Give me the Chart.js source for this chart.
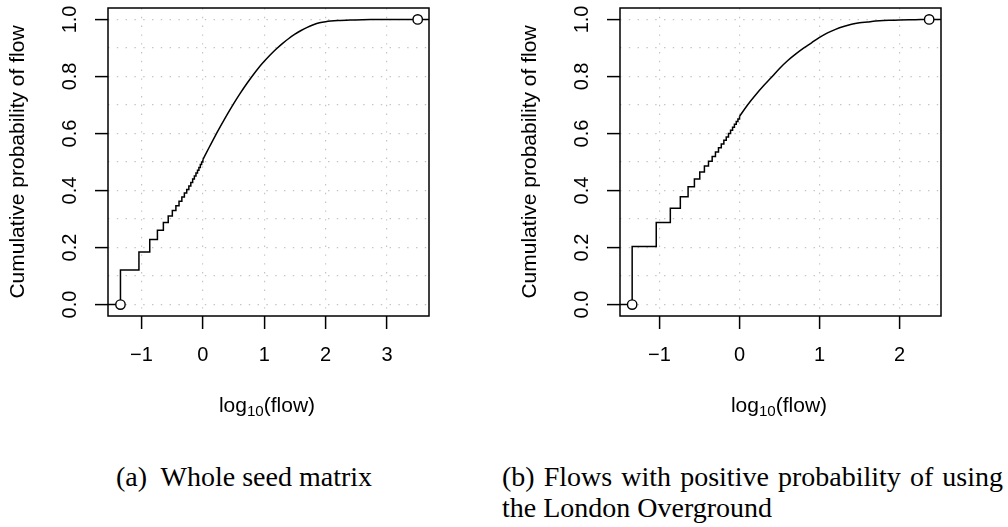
<!DOCTYPE html>
<html>
<head>
<meta charset="utf-8">
<script src="https://cdn.jsdelivr.net/npm/chart.js@4/dist/chart.umd.min.js"></script>
<style>
  html, body { margin: 0; padding: 0; background: #fff; width: 1008px; height: 527px; overflow: hidden; }
  canvas { position: absolute; top: 0; }
  #cA { left: 0px; }
  #cB { left: 512px; }
  .cap { position: absolute; font-family: "Liberation Serif", "DejaVu Serif", serif; font-size: 28px; line-height: 31px; color: #000; }
  #capA { left: 0px; width: 488px; top: 461px; text-align: center; }
  #capB1 { left: 502px; width: 501px; top: 461px; text-align: justify; text-align-last: justify; }
  #capB2 { left: 502px; width: 501px; top: 492px; text-align: left; }
  .xt { position: absolute; width: 200px; top: 393px; text-align: center; color: #000;
        font-family: "Liberation Sans", Arial, Helvetica, sans-serif; font-size: 21px; line-height: 24px; }
  .xt sub { font-size: 0.72em; line-height: 0; vertical-align: -0.28em; }
  #xtA { left: 167px; }
  #xtB { left: 679px; }
</style>
</head>
<body>
<canvas id="cA" width="450" height="440"></canvas>
<canvas id="cB" width="450" height="440"></canvas>
<div class="xt" id="xtA">log<sub>10</sub>(flow)</div>
<div class="xt" id="xtB">log<sub>10</sub>(flow)</div>
<div class="cap" id="capA">(a)&nbsp; Whole seed matrix</div>
<div class="cap" id="capB1">(b) Flows with positive probability of using</div>
<div class="cap" id="capB2">the London Overground</div>
<script>
// ---- shared axis text ----
const yTitle = 'Cumulative probability of flow';
const yGridValues = [0, 0.1, 0.2, 0.3, 0.4, 0.5, 0.6, 0.7, 0.8, 0.9, 1.0];
const yTickLabels = ['0.0', '', '0.2', '', '0.4', '', '0.6', '', '0.8', '', '1.0'];
const yRange = [-0.04, 1.04];

// ---- panel (a): whole seed matrix ----
const xTicksA = [-1, 0, 1, 2, 3];
const xTickLabelsA = ['\u22121', '0', '1', '2', '3'];
const xRangeA = [-1.545, 3.684];
const stepXA = [-1.342, -1.041, -0.865, -0.740, -0.643, -0.564, -0.497, -0.439, -0.388, -0.342, -0.301,
                -0.263, -0.228, -0.196, -0.166, -0.138, -0.112, -0.087, -0.064, -0.041, -0.020, 0.000];
const stepPA = [0.121, 0.184, 0.228, 0.261, 0.288, 0.311, 0.330, 0.347, 0.362, 0.377, 0.391,
                0.404, 0.416, 0.428, 0.440, 0.451, 0.461, 0.471, 0.481, 0.491, 0.500, 0.508];
const curveXA = [0.0, 0.1, 0.2, 0.3, 0.4, 0.5, 0.6, 0.7, 0.8, 0.9, 1.0, 1.1, 1.2, 1.3, 1.4, 1.5, 1.6, 1.7,
                 1.8, 1.9, 2.0, 2.2, 2.4, 2.6, 2.8, 3.0, 3.5];
const curvePA = [0.508, 0.550, 0.591, 0.630, 0.668, 0.704, 0.738, 0.770, 0.800, 0.828, 0.853, 0.876, 0.897,
                 0.916, 0.933, 0.948, 0.961, 0.972, 0.981, 0.988, 0.992, 0.996, 0.998, 0.999, 0.9995, 1.0, 1.0];

// ---- panel (b): flows with positive probability of using the London Overground ----
const xTicksB = [-1, 0, 1, 2];
const xTickLabelsB = ['\u22121', '0', '1', '2'];
const xRangeB = [-1.494, 2.518];
const stepXB = [-1.342, -1.041, -0.865, -0.740, -0.643, -0.564, -0.497, -0.439, -0.388, -0.342, -0.301,
                -0.263, -0.228, -0.196, -0.166, -0.138, -0.112, -0.087, -0.064, -0.041, -0.020, 0.000];
const stepPB = [0.204, 0.288, 0.338, 0.378, 0.413, 0.440, 0.465, 0.486, 0.503, 0.519, 0.535,
                0.550, 0.563, 0.576, 0.588, 0.600, 0.611, 0.622, 0.632, 0.642, 0.651, 0.660];
const curveXB = [0.0, 0.1, 0.2, 0.3, 0.4, 0.5, 0.6, 0.7, 0.8, 0.9, 1.0, 1.1, 1.2, 1.3, 1.4, 1.5, 1.6, 1.7,
                 1.8, 1.9, 2.0, 2.2, 2.37];
const curvePB = [0.660, 0.700, 0.735, 0.767, 0.797, 0.828, 0.855, 0.878, 0.899, 0.918, 0.937, 0.953, 0.965,
                 0.975, 0.983, 0.988, 0.991, 0.994, 0.996, 0.997, 0.998, 0.999, 1.0];

const TICKFONT = { family: '"Liberation Sans", Arial, Helvetica, sans-serif', size: 20 };
const TITLEFONT = { family: '"Liberation Sans", Arial, Helvetica, sans-serif', size: 21 };

const boxPlugin = {
  id: 'fullBox',
  afterDatasetsDraw(chart) {
    const a = chart.chartArea, ctx = chart.ctx;
    ctx.save();
    ctx.strokeStyle = '#000';
    ctx.lineWidth = 1.5;
    ctx.strokeRect(a.left, a.top, a.right - a.left, a.bottom - a.top);
    ctx.restore();
  }
};

function makeChart(id, xTicks, xTickLabels, xRange, stepX, stepP, curveX, curveP) {
  const stepData = [{ x: xRange[0], y: 0 }].concat(stepX.map((x, i) => ({ x: x, y: stepP[i] })));
  const curveData = curveX.map((x, i) => ({ x: x, y: curveP[i] }));
  curveData.push({ x: xRange[1], y: curveP[curveP.length - 1] });
  const endPoints = [{ x: stepX[0], y: 0 }, { x: curveX[curveX.length - 1], y: curveP[curveP.length - 1] }];

  return new Chart(document.getElementById(id), {
    type: 'line',
    data: {
      datasets: [
        { data: endPoints, showLine: false, pointRadius: 4.7, pointHoverRadius: 4.7, pointStyle: 'circle',
          pointBorderWidth: 1.4, pointBorderColor: '#000', pointBackgroundColor: '#fff' },
        { data: stepData, stepped: true, borderColor: '#000', borderWidth: 1.5, pointRadius: 0, fill: false },
        { data: curveData, cubicInterpolationMode: 'monotone', borderColor: '#000', borderWidth: 1.5,
          pointRadius: 0, fill: false }
      ]
    },
    options: {
      responsive: false,
      animation: false,
      devicePixelRatio: 1,
      layout: { padding: { top: 8, right: 21, bottom: 0, left: 0 } },
      plugins: { legend: { display: false }, tooltip: { enabled: false } },
      scales: {
        x: {
          type: 'linear', position: 'bottom', min: xRange[0], max: xRange[1],
          afterBuildTicks: s => { s.ticks = xTicks.map(v => ({ value: v })); },
          afterFit: s => { s.height = 124; s.paddingLeft = 0; s.paddingRight = 0; },
          ticks: { autoSkip: false, maxRotation: 0, minRotation: 0, padding: 14.5, color: '#000', font: TICKFONT,
                   callback: (v, i) => xTickLabels[i] },
          grid: { color: '#c4c4c4', lineWidth: 1.2, tickLength: 13, tickWidth: 1.5, tickColor: '#000',
                  tickBorderDash: [] },
          border: { display: false, dash: [1.4, 7.4] },
          title: { display: false }
        },
        y: {
          type: 'linear', position: 'left', min: yRange[0], max: yRange[1],
          afterBuildTicks: s => { s.ticks = yGridValues.map(v => ({ value: v })); },
          afterFit: s => { s.width = 108; s.paddingTop = 0; s.paddingBottom = 0; },
          ticks: { autoSkip: false, minRotation: 90, maxRotation: 90, crossAlign: 'center', padding: 11,
                   color: '#000', font: TICKFONT, callback: (v, i) => yTickLabels[i] },
          grid: { color: '#c4c4c4', lineWidth: 1.2, tickLength: 13, tickWidth: 1.5,
                  tickColor: c => (yTickLabels[c.index] ? '#000' : 'rgba(0,0,0,0)'), tickBorderDash: [] },
          border: { display: false, dash: [1.4, 7.4] },
          title: { display: true, text: yTitle, color: '#000', font: TITLEFONT, padding: { top: 5.5, bottom: 0 } }
        }
      }
    },
    plugins: [boxPlugin]
  });
}

makeChart('cA', xTicksA, xTickLabelsA, xRangeA, stepXA, stepPA, curveXA, curvePA);
makeChart('cB', xTicksB, xTickLabelsB, xRangeB, stepXB, stepPB, curveXB, curvePB);
</script>
</body>
</html>
